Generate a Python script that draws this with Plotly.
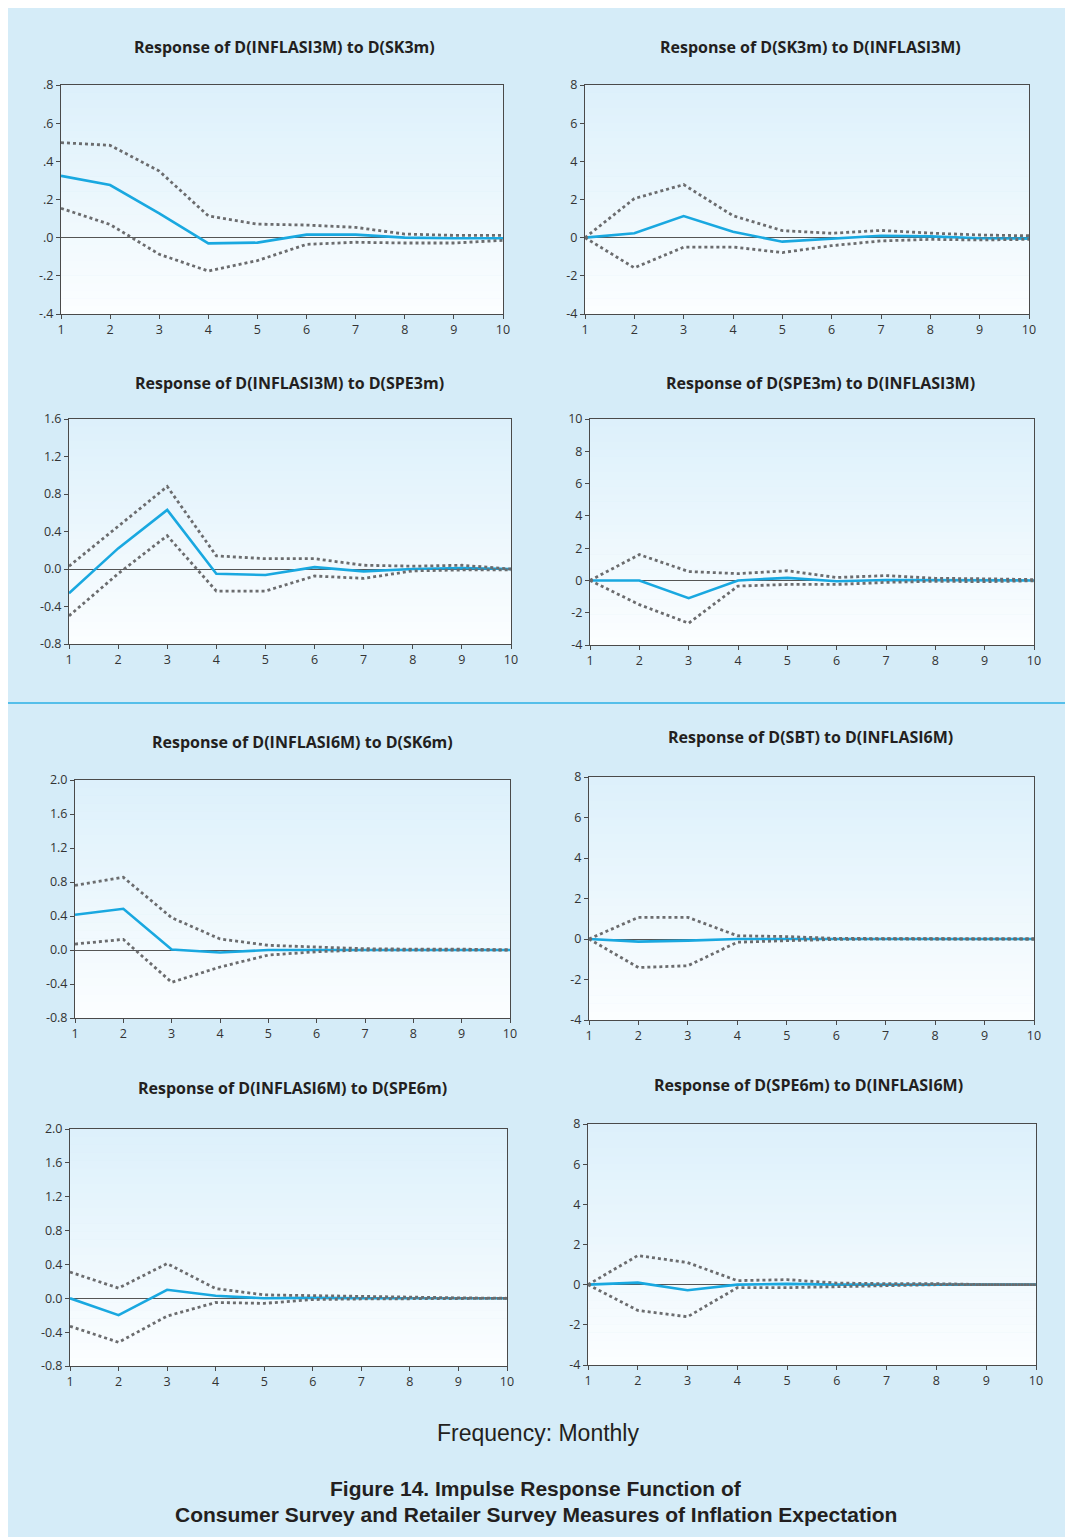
import plotly.graph_objects as go

# ---------------- data ----------------
steps = [1, 2, 3, 4, 5, 6, 7, 8, 9, 10]

titles = [
    "Response of D(INFLASI3M) to D(SK3m)",
    "Response of D(SK3m) to D(INFLASI3M)",
    "Response of D(INFLASI3M) to D(SPE3m)",
    "Response of D(SPE3m) to D(INFLASI3M)",
    "Response of D(INFLASI6M) to D(SK6m)",
    "Response of D(SBT) to D(INFLASI6M)",
    "Response of D(INFLASI6M) to D(SPE6m)",
    "Response of D(SPE6m) to D(INFLASI6M)",
]

p1_resp = [0.324, 0.276, 0.127, -0.030, -0.026, 0.016, 0.016, 0.000, -0.003, -0.003]
p1_upper = [0.498, 0.484, 0.349, 0.114, 0.071, 0.066, 0.054, 0.019, 0.012, 0.012]
p1_lower = [0.154, 0.069, -0.087, -0.175, -0.120, -0.035, -0.024, -0.028, -0.028, -0.014]

p2_resp = [0.0, 0.23, 1.13, 0.31, -0.21, -0.07, 0.10, 0.07, -0.03, -0.05]
p2_upper = [0.0, 2.05, 2.78, 1.15, 0.37, 0.23, 0.38, 0.24, 0.14, 0.10]
p2_lower = [0.0, -1.58, -0.50, -0.49, -0.78, -0.42, -0.17, -0.09, -0.12, -0.09]

p3_resp = [-0.26, 0.22, 0.63, -0.05, -0.064, 0.02, -0.025, 0.0, 0.01, 0.0]
p3_upper = [0.03, 0.46, 0.88, 0.14, 0.11, 0.11, 0.04, 0.03, 0.04, 0.0]
p3_lower = [-0.50, -0.05, 0.355, -0.235, -0.235, -0.075, -0.10, -0.02, -0.01, -0.01]

p4_resp = [0.0, 0.0, -1.10, 0.0, 0.16, -0.05, 0.03, 0.02, 0.0, 0.0]
p4_upper = [0.0, 1.60, 0.55, 0.42, 0.60, 0.18, 0.30, 0.13, 0.10, 0.05]
p4_lower = [0.0, -1.50, -2.65, -0.35, -0.25, -0.25, -0.12, -0.05, -0.08, -0.02]

p5_resp = [0.415, 0.485, 0.005, -0.03, 0.0, 0.0, 0.0, 0.0, 0.0, 0.0]
p5_upper = [0.76, 0.855, 0.38, 0.13, 0.055, 0.035, 0.015, 0.01, 0.01, 0.0]
p5_lower = [0.07, 0.125, -0.38, -0.20, -0.06, -0.02, 0.0, 0.0, 0.0, 0.0]

p6_resp = [0.0, -0.13, -0.08, 0.0, 0.0, 0.0, 0.0, 0.0, 0.0, 0.0]
p6_upper = [0.0, 1.07, 1.07, 0.16, 0.12, 0.03, 0.02, 0.01, 0.01, 0.0]
p6_lower = [0.0, -1.41, -1.32, -0.16, -0.08, -0.02, 0.0, 0.0, 0.0, 0.0]

p7_resp = [0.0, -0.20, 0.10, 0.03, 0.0, 0.005, 0.0, 0.0, 0.0, 0.0]
p7_upper = [0.31, 0.12, 0.41, 0.115, 0.04, 0.03, 0.02, 0.01, 0.005, 0.0]
p7_lower = [-0.33, -0.52, -0.21, -0.05, -0.06, -0.015, -0.008, -0.005, 0.0, 0.0]

p8_resp = [0.0, 0.10, -0.28, 0.0, 0.04, 0.0, 0.0, 0.0, 0.0, 0.0]
p8_upper = [0.0, 1.45, 1.10, 0.20, 0.25, 0.08, 0.05, 0.05, 0.0, 0.0]
p8_lower = [0.0, -1.28, -1.60, -0.15, -0.15, -0.10, -0.03, 0.0, 0.0, 0.0]

y_ticks_a = [-0.4, -0.2, 0.0, 0.2, 0.4, 0.6, 0.8]
y_ticklabels_a = ["-.4", "-.2", ".0", ".2", ".4", ".6", ".8"]
y_ticks_b = [-4, -2, 0, 2, 4, 6, 8]
y_ticks_c = [-0.8, -0.4, 0.0, 0.4, 0.8, 1.2, 1.6]
y_ticks_d = [-4, -2, 0, 2, 4, 6, 8, 10]
y_ticks_e = [-0.8, -0.4, 0.0, 0.4, 0.8, 1.2, 1.6, 2.0]

# ---------------- layout config ----------------
# page body gets an 8px margin on top/left only (set in post_script)
OFF = 8
W, H = 1065 - OFF, 1537 - OFF


def fx(px):
    return (px - OFF) / W


def fy(py):
    return 1 - (py - OFF) / H


series = [
    (p1_resp, p1_upper, p1_lower),
    (p2_resp, p2_upper, p2_lower),
    (p3_resp, p3_upper, p3_lower),
    (p4_resp, p4_upper, p4_lower),
    (p5_resp, p5_upper, p5_lower),
    (p6_resp, p6_upper, p6_lower),
    (p7_resp, p7_upper, p7_lower),
    (p8_resp, p8_upper, p8_lower),
]
# reference-page pixel boxes: left, right, top, bottom
boxes = [
    (61, 503, 85, 314),
    (585, 1029, 85, 314),
    (69, 511, 419, 644),
    (590, 1034, 419, 645),
    (75, 510, 780, 1018),
    (589, 1034, 777, 1020),
    (70, 507, 1129, 1366),
    (588, 1036, 1124, 1365),
]
title_pos = [(284, 47), (810, 47), (289, 383), (820, 383),
             (302, 742), (810, 737), (292, 1088), (808, 1085)]
yaxes_cfg = [
    ([-0.4, 0.8], y_ticks_a, y_ticklabels_a),
    ([-4, 8], y_ticks_b, [str(v) for v in y_ticks_b]),
    ([-0.8, 1.6], y_ticks_c, [f"{v:.1f}" for v in y_ticks_c]),
    ([-4, 10], y_ticks_d, [str(v) for v in y_ticks_d]),
    ([-0.8, 2.0], y_ticks_e, [f"{v:.1f}" for v in y_ticks_e]),
    ([-4, 8], y_ticks_b, [str(v) for v in y_ticks_b]),
    ([-0.8, 2.0], y_ticks_e, [f"{v:.1f}" for v in y_ticks_e]),
    ([-4, 8], y_ticks_b, [str(v) for v in y_ticks_b]),
]

BLUE = "#19A8E0"
GRAY = "#6B6C6E"
AXIS = "#4A4A4A"
PAGE = "#D5ECF8"
TICKFONT = dict(family="Open Sans, Noto Sans, sans-serif", size=12.5, color="#333333")

fig = go.Figure()
shapes = []
annotations = []

# separator line
shapes.append(dict(type="line", xref="paper", yref="paper",
                   x0=0, x1=1, y0=fy(703), y1=fy(703),
                   line=dict(color="#2AB0E6", width=1.5), layer="below"))

top_rgb = (220, 240, 251)
bot_rgb = (252, 254, 255)
NB = 30

for i, ((resp, upper, lower), (l, r, t, b), (yr, tv, tt)) in enumerate(zip(series, boxes, yaxes_cfg)):
    k = i + 1
    xa = "x" if k == 1 else f"x{k}"
    ya = "y" if k == 1 else f"y{k}"
    xname = "xaxis" if k == 1 else f"xaxis{k}"
    yname = "yaxis" if k == 1 else f"yaxis{k}"

    fig.add_trace(go.Scatter(x=steps, y=resp, mode="lines", xaxis=xa, yaxis=ya,
                             line=dict(color=BLUE, width=2.6), showlegend=False,
                             hoverinfo="skip"))
    for band in (upper, lower):
        fig.add_trace(go.Scatter(x=steps, y=band, mode="lines", xaxis=xa, yaxis=ya,
                                 line=dict(color=GRAY, width=2.8, dash="dot"),
                                 showlegend=False, hoverinfo="skip"))

    fig.layout[xname] = dict(
        domain=[fx(l), fx(r)], anchor=ya, range=[1, 10], automargin=False,
        tickvals=steps, ticktext=[str(s) for s in steps],
        showgrid=False, zeroline=False, showline=True, mirror=True,
        linecolor=AXIS, linewidth=1, ticks="outside", ticklen=4,
        tickcolor=AXIS, tickfont=TICKFONT, fixedrange=True)
    fig.layout[yname] = dict(
        domain=[fy(b), fy(t)], anchor=xa, range=yr, automargin=False,
        tickvals=tv, ticktext=tt,
        showgrid=False, zeroline=True, zerolinecolor="#555555", zerolinewidth=1,
        showline=True, mirror=True, linecolor=AXIS, linewidth=1,
        ticks="outside", ticklen=4, tickcolor=AXIS, tickfont=TICKFONT,
        fixedrange=True)

    # gradient plot background
    for j in range(NB):
        f = (j + 0.5) / NB
        c = tuple(round(bot_rgb[m] + (top_rgb[m] - bot_rgb[m]) * f) for m in range(3))
        shapes.append(dict(type="rect", xref=f"{xa} domain", yref=f"{ya} domain",
                           x0=0, x1=1, y0=j / NB, y1=(j + 1) / NB + 0.002,
                           fillcolor=f"rgb{c}", line=dict(width=0), layer="below"))

    tx, ty = title_pos[i]
    annotations.append(dict(text=f"<b>{titles[i]}</b>", xref="paper", yref="paper",
                            x=fx(tx), y=fy(ty), xanchor="center", yanchor="middle",
                            showarrow=False,
                            font=dict(family="Open Sans, Noto Sans, sans-serif",
                                      size=16, color="#231F20")))

annotations.append(dict(text="Frequency: Monthly", xref="paper", yref="paper",
                        x=fx(538), y=fy(1433), xanchor="center", yanchor="middle",
                        showarrow=False,
                        font=dict(family="Liberation Sans, Arial, sans-serif",
                                  size=23, color="#231F20")))
annotations.append(dict(text="<b>Figure 14. Impulse Response Function of</b>",
                        xref="paper", yref="paper",
                        x=fx(536), y=fy(1488), xanchor="center", yanchor="middle",
                        showarrow=False,
                        font=dict(family="Liberation Sans, Arial, sans-serif",
                                  size=21, color="#231F20")))
annotations.append(dict(text="<b>Consumer Survey and Retailer Survey Measures of Inflation Expectation</b>",
                        xref="paper", yref="paper",
                        x=fx(536), y=fy(1514), xanchor="center", yanchor="middle",
                        showarrow=False,
                        font=dict(family="Liberation Sans, Arial, sans-serif",
                                  size=21, color="#231F20")))

fig.update_layout(width=W, height=H,
                  margin=dict(l=0, r=0, t=0, b=0, pad=0, autoexpand=False),
                  paper_bgcolor=PAGE, plot_bgcolor="rgba(0,0,0,0)",
                  shapes=shapes, annotations=annotations, showlegend=False)

fig.write_html("out.html", config={"displayModeBar": False},
               post_script="document.body.style.margin='8px 0 0 8px';")
